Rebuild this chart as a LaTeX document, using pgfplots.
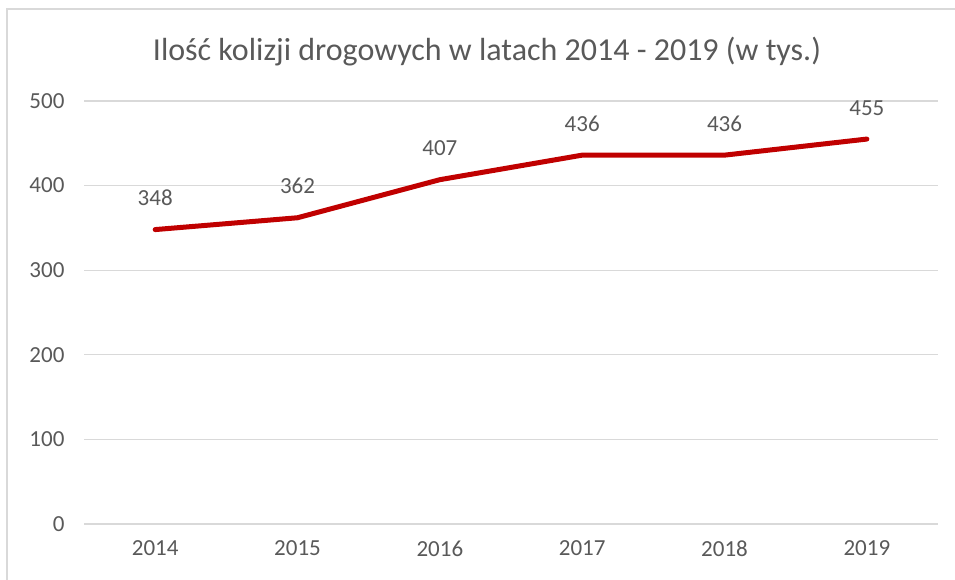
\documentclass[border=0pt]{standalone}
\usepackage{pgfplots}
\pgfplotsset{compat=1.18}
\usepackage{fontspec}
\setmainfont{Carlito}
\definecolor{txt}{HTML}{595959}
\definecolor{grd}{HTML}{D9D9D9}
\definecolor{ln}{HTML}{C00000}
\begin{document}
\begin{tikzpicture}
\useasboundingbox (0,0) rectangle (955pt,579pt);
\draw[grd, line width=1.3pt] (7pt,-5pt) -- (7pt,570pt) -- (960pt,570pt);
\node[anchor=base, text=txt, font=\fontsize{32}{38}\selectfont] at (487pt,518pt) {Ilość kolizji drogowych w latach 2014 - 2019 (w tys.)};
\begin{axis}[
  at={(84pt,55pt)}, anchor=south west,
  scale only axis, width=854pt, height=423pt,
  xmin=-0.5, xmax=5.5, ymin=0, ymax=500,
  xtick={0,1,2,3,4,5},
  xticklabels={2014,2015,2016,2017,2018,2019},
  ytick={0,100,200,300,400,500},
  ymajorgrids, major grid style={grd, line width=1.3pt},
  axis line style={draw=none},
  tick style={draw=none},
  /pgf/number format/assume math mode=true,
  ticklabel style={text=txt, font=\fontsize{23}{27}\selectfont},
  yticklabel style={xshift=-16pt},
  xticklabel style={yshift=-13pt},
  clip=false,
  nodes near coords,
  every node near coord/.style={anchor=base, yshift=24pt, text=txt, font=\fontsize{23}{27}\selectfont},
]
\addplot[ln, line width=5pt, line join=round, line cap=round, mark=none] coordinates {
(0,348) (1,362) (2,407) (3,436) (4,436) (5,455)
};
\end{axis}
\end{tikzpicture}
\end{document}
